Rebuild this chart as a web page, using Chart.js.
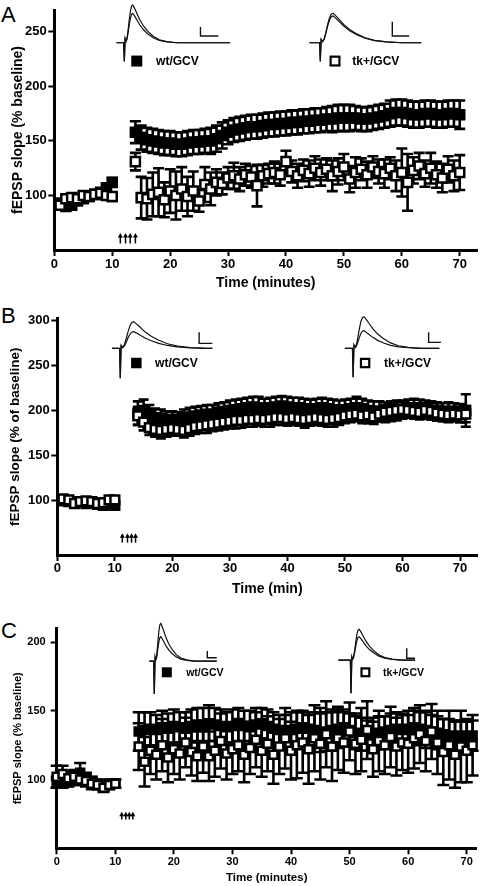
<!DOCTYPE html>
<html><head><meta charset="utf-8">
<script src="https://cdn.jsdelivr.net/npm/chart.js@4.4.1/dist/chart.umd.min.js"></script>
<style>
html,body{margin:0;padding:0;background:#fff;width:486px;height:886px;overflow:hidden;position:relative}
canvas{position:absolute;left:0}
.lbl{position:absolute;left:1px;font:22px "Liberation Sans",Arial,sans-serif;line-height:1;color:#000}
</style></head><body>
<div class="lbl" style="top:4px">A</div>
<div class="lbl" style="top:305px">B</div>
<div class="lbl" style="top:620px">C</div>
<canvas id="cA" width="486" height="298" style="top:0px"></canvas>
<canvas id="cB" width="486" height="302" style="top:298px"></canvas>
<canvas id="cC" width="486" height="286" style="top:600px"></canvas>
<script>
// ---------------- DATA ----------------
const xTicks = [0, 10, 20, 30, 40, 50, 60, 70];
const yTicksA = [100, 150, 200, 250];
const yTicksB = [100, 150, 200, 250, 300];
const yTicksC = [100, 150, 200];

// Panel A
const tA_base = [1, 2, 3, 4, 5, 6, 7, 8, 9, 10];
const wtA_base = [93, 90, 91, 95, 97, 99, 101, 103, 107, 112];
const wtA_baseSem = [3, 3, 3, 3, 3, 3, 3, 3, 4, 4];
const tkA_base = [91, 97, 98, 97, 100, 99, 101, 102, 100, 99];
const tkA_baseSem = [4, 4, 3, 3, 3, 3, 3, 3, 4, 4];
const tA_post = [14,15,16,17,18,19,20,21,22,23,24,25,26,27,28,29,30,31,32,33,34,35,36,37,38,39,40,41,42,43,44,45,46,47,48,49,50,51,52,53,54,55,56,57,58,59,60,61,62,63,64,65,66,67,68,69,70];
const wtA_post = [158,153,151,150,149,148,148,147,147,148,
  149,149,150,150,152,155,158,160,161,162,
  163,163,164,165,165,166,166,167,167,168,
  168,169,169,170,170,171,171,171,171,170,
  170,171,172,173,175,176,176,175,174,174,
  175,175,174,174,175,175,174];
const wtA_postSem = [10,11,11,11,11,11,11,11,11,11,
  11,11,11,12,12,12,11,11,11,11,
  11,11,11,11,11,11,11,11,11,11,
  11,11,11,11,12,12,12,12,11,11,
  11,11,11,11,12,12,12,12,12,12,
  12,12,12,12,12,12,13];
const tkA_post = [131,98,97,101,103,96,104,100,106,99,
  104,95,110,106,112,111,116,118,115,119,
  117,109,118,120,121,119,131,122,118,123,
  120,125,121,124,118,122,126,115,121,124,
  119,126,122,120,125,118,121,112,123,127,
  120,125,119,116,124,118,121];
const tkA_postSem = [8,19,19,20,22,16,20,22,20,18,
  18,10,16,15,12,10,10,12,11,10,
  10,19,10,9,10,10,10,10,11,10,
  12,11,12,10,14,12,12,12,14,10,
  12,10,11,13,10,14,22,26,12,12,
  12,14,12,13,12,14,16];

// Panel B
const tB_base = [1, 2, 3, 4, 5, 6, 7, 8, 9, 10];
const wtB_base = [100, 99, 98, 99, 97, 98, 96, 95, 96, 95];
const wtB_baseSem = [3, 3, 3, 3, 3, 3, 3, 3, 3, 3];
const tkB_base = [102, 101, 97, 99, 100, 99, 97, 98, 101, 101];
const tkB_baseSem = [3, 3, 3, 3, 3, 3, 3, 3, 3, 3];
const tB_post = [14,15,16,17,18,19,20,21,22,23,24,25,26,27,28,29,30,31,32,33,34,35,36,37,38,39,40,41,42,43,44,45,46,47,48,49,50,51,52,53,54,55,56,57,58,59,60,61,62,63,64,65,66,67,68,69,70,71];
const wtB_post = [197,200,195,192,191,190,190,189,191,193,
  194,195,196,196,198,199,200,201,202,203,
  204,203,202,203,204,205,204,203,203,202,
  201,202,203,202,201,200,201,202,203,202,
  200,199,199,198,199,200,201,202,203,202,
  201,200,199,198,199,198,197,200];
const wtB_postSem = [13,12,11,10,10,9,9,9,10,10,
  10,10,10,10,10,10,11,11,11,11,
  11,12,11,11,11,11,11,11,11,11,
  11,11,11,11,11,11,11,11,12,11,
  11,11,11,11,11,11,10,10,10,10,
  10,10,10,10,10,10,10,18];
const tkB_post = [194,187,181,179,178,179,180,179,178,180,
  182,183,184,185,186,187,188,189,189,190,
  190,191,190,191,192,192,191,192,191,190,
  191,192,191,190,191,192,194,195,196,194,
  195,193,196,198,199,200,201,200,199,198,
  200,199,197,196,195,196,195,196];
const tkB_postSem = [10,9,8,8,9,8,8,7,8,8,
  8,8,9,8,8,8,8,9,8,8,
  8,8,8,9,8,8,8,8,8,9,
  8,8,8,8,9,8,8,8,8,8,
  9,8,8,8,8,9,8,8,8,8,
  8,9,8,8,8,8,8,9];

// Panel C
const tC_base = [0, 1, 2, 3, 4, 5, 6, 7, 8, 9, 10];
const wtC_base = [98, 97, 98, 100, 105, 101, 99, 97, 95, 97, 97];
const wtC_baseSem = [4, 3, 3, 4, 7, 4, 3, 3, 3, 3, 3];
const tkC_base = [102, 104, 101, 102, 100, 99, 97, 96, 94, 96, 97];
const tkC_baseSem = [8, 6, 5, 5, 4, 4, 4, 3, 3, 3, 3];
const tC_post = [14,15,16,17,18,19,20,21,22,23,24,25,26,27,28,29,30,31,32,33,34,35,36,37,38,39,40,41,42,43,44,45,46,47,48,49,50,51,52,53,54,55,56,57,58,59,60,61,62,63,64,65,66,67,68,69,70,71];
const wtC_post = [135,136,137,136,138,137,139,138,137,139,
  140,139,141,140,139,138,139,140,139,138,
  140,141,139,137,136,135,136,137,138,137,
  136,134,135,136,137,138,136,134,133,132,
  133,134,135,136,137,136,137,138,137,136,
  135,134,133,132,131,132,131,132];
const wtC_postSem = [14,13,12,11,12,11,12,11,12,12,
  12,13,13,12,12,11,12,12,11,12,
  12,11,12,12,11,12,13,13,12,12,
  13,14,14,15,14,13,12,12,12,11,
  12,12,11,12,12,12,13,12,12,13,
  12,12,11,12,12,11,11,11];
const tkC_post = [124,113,121,118,125,116,122,119,127,120,
  117,124,117,121,128,119,122,125,118,123,
  129,121,126,118,124,130,121,125,127,122,
  130,126,133,124,130,127,135,126,129,136,
  122,128,125,131,124,127,126,130,133,128,
  135,127,120,125,118,124,121,125];
const tkC_postSem = [17,18,17,18,19,18,18,19,18,17,
  18,19,18,19,20,19,18,19,20,19,
  20,19,20,21,20,22,21,24,22,25,
  24,26,24,25,23,22,21,22,23,21,
  20,22,21,22,21,20,21,22,21,22,
  20,23,24,25,24,26,23,22];

// tetanus arrows (minutes)
const arrowsA = [11.4, 12.3, 13.1, 14.0];
const arrowsB = [11.3, 12.2, 12.9, 13.6];
const arrowsC = [11.1, 11.8, 12.4, 13.0];

// example fEPSP trace shape (time in rise-time units, amplitude relative to peak)
const traceT = [0, 0.12, 0.25, 0.4, 0.55, 0.7, 0.85, 1, 1.2, 1.5, 1.9, 2.4, 3.0, 3.7, 4.5, 5.5, 6.8];
const traceV = [0.12, 0.04, 0.12, 0.35, 0.62, 0.84, 0.97, 1, 0.93, 0.8, 0.62, 0.45, 0.3, 0.17, 0.08, 0.03, 0];

// ---------------- RENDERING ----------------
const F = '"Liberation Sans", Arial, Helvetica, sans-serif';
Chart.defaults.font.family = F;

function pts(ts, ys) { return ts.map((t, i) => ({ x: t, y: ys[i] })); }

const errorBars = {
  id: 'errorBars',
  beforeDatasetDraw(chart, args) {
    const ds = chart.data.datasets[args.index];
    if (!ds.errors) return;
    const xs = chart.scales.x, ys = chart.scales.y, ctx = chart.ctx;
    const cap = ds.capHalf || 5;
    ctx.save();
    ctx.strokeStyle = '#000';
    ctx.lineWidth = ds.errWidth || 2;
    ctx.lineCap = 'butt';
    ds.data.forEach((p, i) => {
      const e = ds.errors[i];
      const x = xs.getPixelForValue(p.x);
      const y1 = ys.getPixelForValue(p.y + e), y2 = ys.getPixelForValue(p.y - e);
      ctx.beginPath();
      ctx.moveTo(x, y1); ctx.lineTo(x, y2);
      ctx.moveTo(x - cap, y1); ctx.lineTo(x + cap, y1);
      ctx.moveTo(x - cap, y2); ctx.lineTo(x + cap, y2);
      ctx.stroke();
    });
    ctx.restore();
  }
};

const DECO = {};
function drawTrace(ctx, X, Y, t, peak) {
  const xs0 = X(t.stim), xp = X(t.peakX), x1 = X(t.x1), yb = Y(t.base);
  const amp = Y(peak) - yb;
  const rise = xp - xs0;
  ctx.beginPath();
  ctx.moveTo(X(t.x0), yb);
  ctx.lineTo(xs0 - 0.7, yb);
  ctx.lineTo(xs0, Y(t.spike));
  ctx.lineTo(xs0 + 0.8, yb + traceV[0] * amp);
  for (let k = 1; k < traceT.length; k++) {
    const x = xs0 + 0.8 + traceT[k] * rise;
    if (x > x1) break;
    ctx.lineTo(x, yb + traceV[k] * amp);
  }
  ctx.lineTo(x1, yb);
  ctx.stroke();
}
const deco = {
  id: 'deco',
  afterDatasetsDraw(chart) {
    const o = DECO[chart.canvas.id];
    if (!o) return;
    const ctx = chart.ctx;
    const X = v => chart.scales.x.getPixelForValue(v);
    const Y = v => chart.scales.y.getPixelForValue(v);
    ctx.save();
    ctx.strokeStyle = '#111';
    o.traces.forEach(t => {
      ctx.lineWidth = 1.2;
      t.peaks.forEach(p => drawTrace(ctx, X, Y, t, p));
      ctx.lineWidth = 1.4;
      ctx.beginPath();
      ctx.moveTo(X(t.bar.x), Y(t.bar.top));
      ctx.lineTo(X(t.bar.x), Y(t.bar.bottom));
      ctx.lineTo(X(t.bar.right), Y(t.bar.bottom));
      ctx.stroke();
    });
    o.legend.forEach(l => {
      const cx = X(l.x), cy = Y(l.y), s = o.sq;
      if (l.filled) {
        ctx.fillStyle = '#000';
        ctx.fillRect(cx - s / 2, cy - s / 2, s, s);
      } else {
        ctx.fillStyle = '#fff';
        ctx.fillRect(cx - s / 2, cy - s / 2, s, s);
        ctx.strokeStyle = '#000';
        ctx.lineWidth = 2.2;
        ctx.strokeRect(cx - s / 2 + 1.1, cy - s / 2 + 1.1, s - 2.2, s - 2.2);
      }
      ctx.fillStyle = '#000';
      ctx.font = 'bold ' + o.legFont + 'px ' + F;
      ctx.textBaseline = 'middle';
      ctx.textAlign = 'left';
      ctx.fillText(l.text, X(l.tx), cy + 0.5);
    });
    ctx.fillStyle = '#000';
    ctx.strokeStyle = '#000';
    ctx.lineWidth = 1.5;
    o.arrows.forEach(a => {
      const x = X(a), yb = Y(o.arrowFrom), yt = Y(o.arrowTo);
      ctx.beginPath();
      ctx.moveTo(x, yb); ctx.lineTo(x, yt + 3);
      ctx.stroke();
      ctx.beginPath();
      ctx.moveTo(x, yt); ctx.lineTo(x - 2.5, yt + 4.5); ctx.lineTo(x + 2.5, yt + 4.5);
      ctx.closePath(); ctx.fill();
    });
    ctx.restore();
  }
};

function panel(id, P) {
  const mk = (label, data, err, filled) => ({
    label, data, errors: err, capHalf: P.cap, errWidth: 2.6,
    pointStyle: 'rect', pointRadius: P.r, pointBorderWidth: 2.5,
    pointBackgroundColor: filled ? '#000' : '#fff', pointBorderColor: '#000',
    showLine: false, clip: false
  });
  return new Chart(document.getElementById(id), {
    type: 'scatter',
    data: { datasets: [
      mk('tk+/GCV', P.tk, P.tkErr, false),
      mk('wt/GCV', P.wt, P.wtErr, true)
    ] },
    options: {
      responsive: false, animation: false, events: [], devicePixelRatio: 1,
      layout: { padding: P.pad },
      plugins: { legend: { display: false }, tooltip: { enabled: false } },
      scales: {
        x: {
          type: 'linear', min: 0, max: P.xMax,
          afterBuildTicks: s => { s.ticks = xTicks.map(v => ({ value: v })); },
          afterFit: s => { s.height = P.xH; },
          border: { width: 3, color: '#000' },
          grid: { drawOnChartArea: false, drawTicks: true, tickLength: 6, tickWidth: 2, tickColor: '#000' },
          ticks: { color: '#000', font: { family: F, size: P.tick, weight: 'bold' }, padding: P.xTickPad, maxRotation: 0, autoSkip: false },
          title: { display: true, text: P.xTitle, color: '#000', font: { family: F, size: P.xTitleSize, weight: 'bold' }, padding: { top: 0, bottom: P.xTitlePad } }
        },
        y: {
          type: 'linear', min: P.yMin, max: P.yMax,
          afterBuildTicks: s => { s.ticks = P.yTicks.map(v => ({ value: v })); },
          afterFit: s => { s.width = P.yW; },
          border: { width: 3, color: '#000' },
          grid: { drawOnChartArea: false, drawTicks: true, tickLength: 6, tickWidth: 2, tickColor: '#000' },
          ticks: { color: '#000', font: { family: F, size: P.tick, weight: 'bold' }, padding: P.yTickPad, autoSkip: false },
          title: { display: true, text: P.yTitle, color: '#000', font: { family: F, size: P.yTitleSize, weight: 'bold' }, padding: { top: P.yTitlePad, bottom: 0 } }
        }
      }
    },
    plugins: [errorBars, deco]
  });
}

DECO.cA = {
  sq: 11, legFont: 12, arrows: arrowsA, arrowFrom: 56, arrowTo: 65.5,
  legend: [
    { x: 14.24, y: 223.2, filled: true, tx: 17.57, text: 'wt/GCV' },
    { x: 48.47, y: 223.2, filled: false, tx: 51.46, text: 'tk+/GCV' }
  ],
  traces: [
    { x0: 10.72, stim: 12.09, peakX: 13.40, x1: 30.37, base: 240.0, spike: 222.9, peaks: [274.6, 266.9], bar: { x: 25.24, top: 254.4, bottom: 246.2, right: 28.32 } },
    { x0: 44.05, stim: 45.93, peakX: 47.98, x1: 63.37, base: 240.0, spike: 222.9, peaks: [267.0, 264.5], bar: { x: 58.36, top: 259.3, bottom: 246.2, right: 61.27 } }
  ]
};
DECO.cB = {
  sq: 10.5, legFont: 12, arrows: arrowsB, arrowFrom: 53.7, arrowTo: 64,
  legend: [
    { x: 13.74, y: 252.5, filled: true, tx: 17.0, text: 'wt/GCV' },
    { x: 53.5, y: 252.5, filled: false, tx: 56.8, text: 'tk+/GCV' }
  ],
  traces: [
    { x0: 9.5, stim: 10.95, peakX: 13.13, x1: 26.94, base: 268.8, spike: 235.6, peaks: [298.2, 287.2], bar: { x: 24.65, top: 286.5, bottom: 274.3, right: 26.94 } },
    { x0: 49.98, stim: 51.42, peakX: 53.14, x1: 66.39, base: 268.8, spike: 236.7, peaks: [303.8, 288.3], bar: { x: 64.54, top: 286.5, bottom: 275.4, right: 66.67 } }
  ]
};
DECO.cC = {
  sq: 10, legFont: 10.5, arrows: arrowsC, arrowFrom: 71, arrowTo: 76.5,
  legend: [
    { x: 18.8, y: 178, filled: true, tx: 22.1, text: 'wt/GCV' },
    { x: 52.7, y: 178, filled: false, tx: 55.7, text: 'tk+/GCV' }
  ],
  traces: [
    { x0: 15.81, stim: 16.66, peakX: 17.64, x1: 27.32, base: 186.2, spike: 162.2, peaks: [213.6, 203.9], bar: { x: 25.71, top: 193.5, bottom: 188.6, right: 27.32 } },
    { x0: 48.08, stim: 50.25, peakX: 51.5, x1: 61.17, base: 186.9, spike: 162.7, peaks: [209.3, 203.9], bar: { x: 59.76, top: 195.5, bottom: 188.2, right: 61.17 } }
  ]
};

panel('cA', {
  wt: pts(tA_base, wtA_base).concat(pts(tA_post, wtA_post)),
  wtErr: wtA_baseSem.concat(wtA_postSem),
  tk: pts(tA_base, tkA_base).concat(pts(tA_post, tkA_post)),
  tkErr: tkA_baseSem.concat(tkA_postSem),
  r: 6.4, cap: 5.5,
  pad: { left: 0, top: 10, right: 4.3, bottom: 0 },
  yW: 54.3, xH: 48, xMax: 73, yMin: 50, yMax: 270, yTicks: yTicksA,
  tick: 13, xTickPad: 1, yTickPad: 1.6,
  xTitle: 'Time (minutes)', xTitleSize: 14, xTitlePad: 6.6,
  yTitle: 'fEPSP slope (% baseline)', yTitleSize: 14, yTitlePad: 9.6
});
panel('cB', {
  wt: pts(tB_base, wtB_base).concat(pts(tB_post, wtB_post)),
  wtErr: wtB_baseSem.concat(wtB_postSem),
  tk: pts(tB_base, tkB_base).concat(pts(tB_post, tkB_post)),
  tkErr: tkB_baseSem.concat(tkB_postSem),
  r: 6.2, cap: 5,
  pad: { left: 0, top: 20.3, right: 6, bottom: 0 },
  yW: 57.3, xH: 45, xMax: 73, yMin: 40, yMax: 302, yTicks: yTicksB,
  tick: 13, xTickPad: 0, yTickPad: 1.5,
  xTitle: 'Time (min)', xTitleSize: 14, xTitlePad: 2.6,
  yTitle: 'fEPSP slope (% of baseline)', yTitleSize: 13.5, yTitlePad: 6.9
});
panel('cC', {
  wt: pts(tC_base, wtC_base).concat(pts(tC_post, wtC_post)),
  wtErr: wtC_baseSem.concat(wtC_postSem),
  tk: pts(tC_base, tkC_base).concat(pts(tC_post, tkC_post)),
  tkErr: tkC_baseSem.concat(tkC_postSem),
  r: 5.7, cap: 6,
  pad: { left: 0, top: 28.3, right: 9.3, bottom: 0 },
  yW: 56.7, xH: 37.7, xMax: 71.7, yMin: 50, yMax: 210, yTicks: yTicksC,
  tick: 11, xTickPad: 1, yTickPad: 5,
  xTitle: 'Time (minutes)', xTitleSize: 11.5, xTitlePad: 1,
  yTitle: 'fEPSP slope (% baseline)', yTitleSize: 11, yTitlePad: 11.4
});
</script>
</body></html>
